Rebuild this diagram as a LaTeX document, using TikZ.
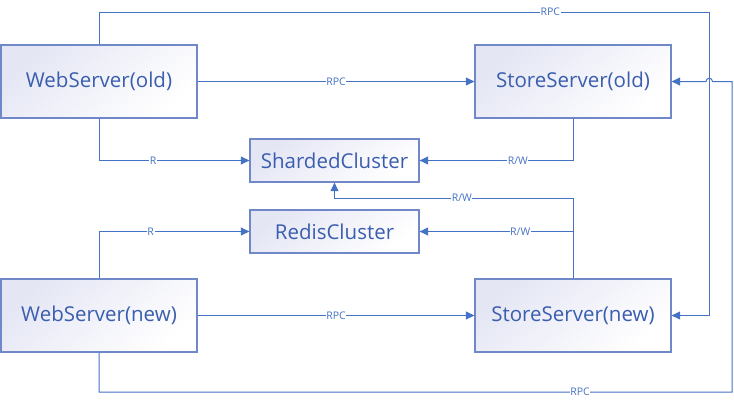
\documentclass[tikz,border=0pt]{standalone}
\usepackage{fontspec}
\setmainfont{Open Sans}
\usetikzlibrary{arrows.meta}
\definecolor{lineblue}{HTML}{4472C4}
\definecolor{boxline}{HTML}{7088C8}
\definecolor{txtblue}{HTML}{3A5DAE}
\definecolor{lav}{HTML}{E4E6F4}
\tikzset{
  box/.style={draw=boxline, line width=1.3pt, top color=lav, middle color=white, bottom color=white, shading angle=40,
    text=txtblue, font=\fontsize{20.5}{24}\selectfont, inner sep=0pt, anchor=center},
  bigbox/.style={box, minimum width=196pt, minimum height=73pt},
  smallbox/.style={box, minimum width=169pt, minimum height=43pt},
  conn/.style={draw=lineblue, line width=1pt, -{Triangle[length=8.5pt,width=8pt]}},
  lbl/.style={fill=white, text=lineblue, font=\fontsize{10.5}{12}\selectfont, inner sep=0.6pt}
}
\begin{document}
\begin{tikzpicture}[x=1pt,y=-1pt]
\useasboundingbox (0,0) rectangle (734,407);
\node[bigbox] (wo) at (99,81.5) {WebServer(old)};
\node[bigbox] (so) at (573,81.5) {StoreServer(old)};
\node[smallbox] (sc) at (334.5,160.5) {ShardedCluster};
\node[smallbox] (rc) at (334.5,231.5) {RedisCluster};
\node[bigbox] (wn) at (99,315.5) {WebServer(new)};
\node[bigbox] (sn) at (573,315.5) {StoreServer(new)};
\coordinate (c1) at (709,12);
\coordinate (c3) at (732,392);
\coordinate (j1) at (334.5,198);
\coordinate (h1) at (712.5,81.5);
\coordinate (h1c) at (712.5,77.2);
\coordinate (h2c) at (706,77.2);
\coordinate (h2) at (706,81.5);
% old web -> old store
\draw[conn] (wo) -- node[lbl]{RPC} (so);
% old web -> new store (top route)
\draw[conn] (wo.north) |- node[lbl,pos=0.87]{RPC} (c1) |- (sn.east);
% old web -> sharded
\draw[conn] (wo.south) |- node[lbl,pos=0.68]{R} (sc.west);
% old store -> sharded
\draw[conn] (so.south) |- node[lbl,pos=0.68]{R/W} (sc.east);
% new store -> sharded
\draw[conn] (sn.north) |- node[lbl,pos=0.733]{R/W} (j1) -- (sc.south);
% new store -> redis
\draw[conn] (sn.north) |- node[lbl,pos=0.672]{R/W} (rc.east);
% new web -> redis
\draw[conn] (wn.north) |- node[lbl,pos=0.672]{R} (rc.west);
% new web -> new store
\draw[conn] (wn) -- node[lbl]{RPC} (sn);
% new web -> old store (bottom route with hop)
\draw[conn] (wn.south) |- node[lbl,pos=0.88]{RPC} (c3) |- (h1) .. controls (h1c) and (h2c) .. (h2) -- (so.east);
\end{tikzpicture}
\end{document}
